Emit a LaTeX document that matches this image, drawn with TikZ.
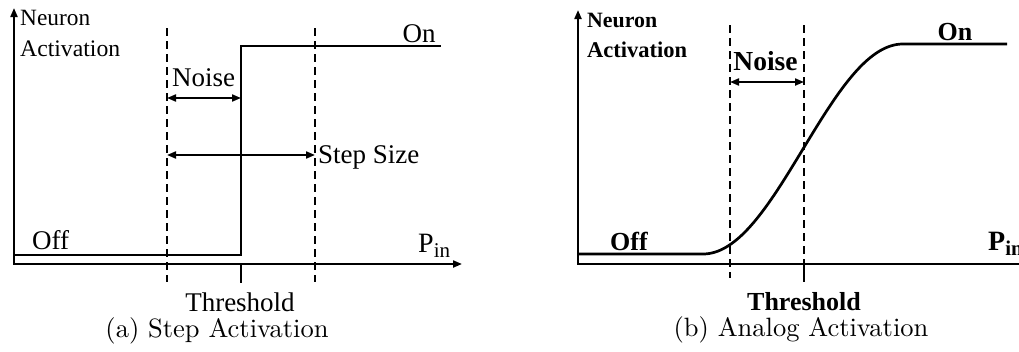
\documentclass[tikz,border=0pt]{standalone}
\usepackage{fontspec}
\usepackage{graphicx}
\newfontfamily\tms{Liberation Serif}
\usetikzlibrary{arrows.meta}
\tikzset{
  axisline/.style={line width=2pt, {Triangle[length=9pt,width=7pt]}-{Triangle[length=9pt,width=7pt]}},
  respline/.style={line width=2.7pt, line join=miter},
  guide/.style={line width=2pt, dash pattern=on 8pt off 5pt},
  tickline/.style={line width=2pt},
  span/.style={line width=2pt, {Triangle[length=9pt,width=7pt]}-{Triangle[length=9pt,width=7pt]}},
  lbl/.style={inner sep=0pt, font=\tms\fontsize{27}{30}\selectfont},
  axlbl/.style={inner sep=0pt, font=\tms\fontsize{10}{12}\selectfont},
  blbl/.style={inner sep=0pt, font=\tms\bfseries\fontsize{26}{30}\selectfont},
  baxlbl/.style={inner sep=0pt, font=\tms\bfseries\fontsize{10}{12}\selectfont},
  caplbl/.style={inner sep=0pt, anchor=base},
}
\newcommand{\pinlabel}{P\raisebox{-5pt}{\fontsize{21}{21}\selectfont in}}
\begin{document}
\begin{tikzpicture}[x=1pt,y=-1pt]
\useasboundingbox (0,0) rectangle (1019,351);
\clip (0,0) rectangle (1019,351);
% ===== (a) Step activation =====
\coordinate (aO) at (14,264);
\coordinate (aY) at (14,8);
\coordinate (aX) at (462,264);
\coordinate (aOffS) at (14,255);
\coordinate (aStepB) at (241,255);
\coordinate (aStepT) at (241,46);
\coordinate (aOnE) at (441,46);
\coordinate (aD1t) at (167,28);
\coordinate (aD1b) at (167,282);
\coordinate (aD2t) at (315,28);
\coordinate (aD2b) at (315,282);
\coordinate (aTt) at (241,264);
\coordinate (aTb) at (241,283);
\coordinate (aN1) at (167,98);
\coordinate (aN2) at (241,98);
\coordinate (aS1) at (167,155);
\coordinate (aS2) at (315,155);

\draw[guide] (aD1t) -- (aD1b);
\draw[guide] (aD2t) -- (aD2b);
\draw[axisline] (aY) -- (aO) -- (aX);
\draw[respline] (aOffS) -- (aStepB) -- (aStepT) -- (aOnE);
\draw[tickline] (aTt) -- (aTb);
\draw[span] (aN1) -- (aN2);
\draw[span] (aS1) -- (aS2);

\node[axlbl, anchor=base west] (aNeu) at (20,25) {\resizebox{70pt}{!}{Neuron}};
\node[axlbl, anchor=base west] (aAct) at (20,56) {\resizebox{100pt}{!}{Activation}};
\node[lbl, anchor=base] (aNoise) at (203.5,86) {Noise};
\node[lbl, anchor=base] (aOn) at (419,42) {On};
\node[lbl, anchor=base west] (aStep) at (318,163) {Step Size};
\node[lbl, anchor=base west] (aOff) at (32,249) {Off};
\node[lbl, anchor=base west, font=\tms\fontsize{28}{30}\selectfont] (aPin) at (418,252) {\pinlabel};
\node[lbl, anchor=base] (aThr) at (240,311) {Threshold};
\node[caplbl] (aCap) at (217,337) {\scalebox{2.65}{(a) Step Activation}};

% ===== (b) Analog activation =====
\coordinate (bO) at (578,264);
\coordinate (bY) at (578,10);
\coordinate (bX) at (1030,264);
\coordinate (bOffS) at (578,254);
\coordinate (bCs) at (703,254);
\coordinate (bCe) at (903,44);
\coordinate (bOnE) at (1007,44);
\coordinate (bD1t) at (730,25);
\coordinate (bD1b) at (730,278);
\coordinate (bD2t) at (804,25);
\coordinate (bD2b) at (804,264);
\coordinate (bTb) at (804,282);
\coordinate (bN1) at (730,82);
\coordinate (bN2) at (804,82);

\draw[guide] (bD1t) -- (bD1b);
\draw[guide] (bD2t) -- (bD2b);
\draw[tickline] (bD2b) -- (bTb);
\draw[axisline] (bY) -- (bO) -- (bX);
\draw[respline, line join=round] (bOffS) -- (bCs)
  -- plot[domain=0:200, samples=80] ({703+\x}, {149+105*cos(0.9*\x)})
  -- (bCe) -- (bOnE);
\draw[span] (bN1) -- (bN2);

\node[baxlbl, anchor=base west] (bNeu) at (587,27) {\resizebox{70pt}{!}{Neuron}};
\node[baxlbl, anchor=base west] (bAct) at (587,57) {\resizebox{100pt}{!}{Activation}};
\node[blbl, anchor=base, font=\tms\bfseries\fontsize{27.5}{30}\selectfont] (bNoise) at (765.5,70) {Noise};
\node[blbl, anchor=base] (bOn) at (955,40) {On};
\node[blbl, anchor=base west] (bOff) at (610,250) {Off};
\node[blbl, anchor=base west, font=\tms\bfseries\fontsize{28}{30}\selectfont] (bPin) at (988,250) {\pinlabel};
\node[blbl, anchor=base] (bThr) at (804,310) {Threshold};
\node[caplbl] (bCap) at (801,336) {\scalebox{2.65}{(b) Analog Activation}};
\end{tikzpicture}
\end{document}
